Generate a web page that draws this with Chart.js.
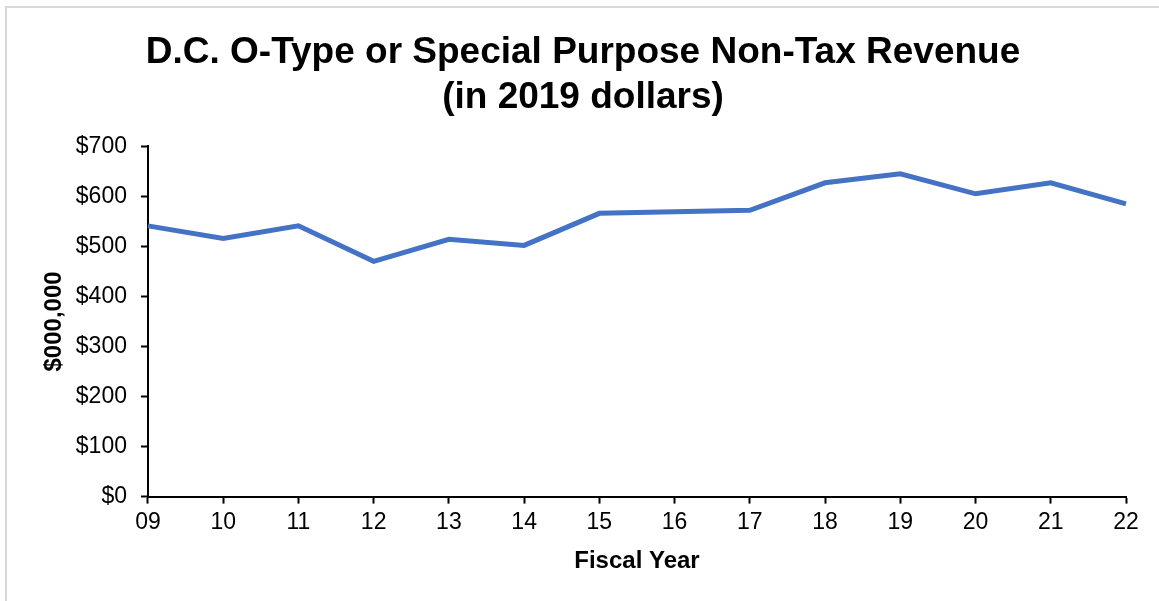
<!DOCTYPE html>
<html>
<head>
<meta charset="utf-8">
<script src="https://cdn.jsdelivr.net/npm/chart.js@4"></script>
<style>
  html, body { margin: 0; padding: 0; background: #fff; }
  #wrap { position: relative; width: 1159px; height: 601px; }
  #frame { position: absolute; left: 5px; top: 6px; width: 1160px; height: 600px; border: 2px solid #d9d9d9; box-sizing: border-box; }
</style>
</head>
<body>
<div id="wrap">
  <div id="frame"></div>
  <canvas id="revenueChart" width="1159" height="601"></canvas>
</div>
<script>
// Chart data
const years = ["09", "10", "11", "12", "13", "14", "15", "16", "17", "18", "19", "20", "21", "22"];
const revenue = [541, 516, 541, 470, 514, 502, 566, 569, 572, 627, 645, 605, 627, 585];
const yTicks = [0, 100, 200, 300, 400, 500, 600, 700];

const titleLines = ["D.C. O-Type or Special Purpose Non-Tax Revenue", "(in 2019 dollars)"];
const FONT = "Liberation Sans, Arial, sans-serif";

// Build the chart
const ctx = document.getElementById("revenueChart").getContext("2d");
new Chart(ctx, {
  type: "line",
  data: {
    labels: years,
    datasets: [
      {
        label: "Revenue",
        data: revenue,
        borderColor: "#4472C4",
        borderWidth: 5,
        pointRadius: 0,
        tension: 0,
        fill: false,
      },
    ],
  },
  options: {
    responsive: false,
    animation: false,
    layout: {
      padding: { left: 40, right: 33, top: 30, bottom: 21 },
    },
    plugins: {
      legend: { display: false },
      tooltip: { enabled: false },
      title: {
        display: true,
        text: titleLines,
        color: "#000",
        font: { family: FONT, size: 37, weight: "bold", lineHeight: 1.22 },
        padding: { top: 0, bottom: 26 },
      },
    },
    scales: {
      x: {
        offset: false,
        grid: {
          drawOnChartArea: false,
          tickLength: 7,
          tickColor: "#000",
          tickWidth: 2,
        },
        border: { color: "#000", width: 2 },
        ticks: {
          color: "#000",
          font: { family: FONT, size: 23 },
          maxRotation: 0,
          autoSkip: false,
          padding: 5,
        },
        title: {
          display: true,
          text: "Fiscal Year",
          color: "#000",
          font: { family: FONT, size: 24, weight: "bold" },
          padding: { top: 6 },
        },
      },
      y: {
        min: 0,
        max: 700,
        afterBuildTicks: (axis) => {
          axis.ticks = yTicks.map((v) => ({ value: v }));
        },
        grid: {
          drawOnChartArea: false,
          tickLength: 7,
          tickColor: "#000",
          tickWidth: 2,
        },
        border: { color: "#000", width: 2 },
        ticks: {
          color: "#000",
          font: { family: FONT, size: 23 },
          padding: 14,
          callback: (value) => "$" + value,
        },
        title: {
          display: true,
          text: "$000,000",
          color: "#000",
          font: { family: FONT, size: 24, weight: "bold" },
          padding: { top: 0, bottom: -7 },
        },
      },
    },
  },
});
</script>
</body>
</html>
